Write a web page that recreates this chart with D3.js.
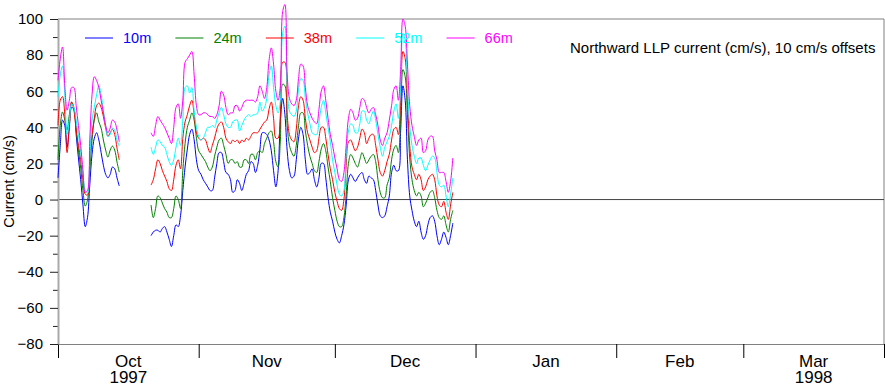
<!DOCTYPE html>
<html>
<head>
<meta charset="utf-8">
<script src="https://cdn.jsdelivr.net/npm/d3@7/dist/d3.min.js"></script>
<style>
  body { margin: 0; background: #fff; }
  svg { display: block; font-family: "Liberation Sans", Arial, sans-serif; }
</style>
</head>
<body>
<svg id="chart"></svg>
<script>
// depths, colours and the 10 cm/s stacking offset used for each line
var depths = ["10m", "24m", "38m", "52m", "66m"];
var offsets = [0, 10, 20, 30, 40];
var colorArray = ["#0000ff", "#008000", "#ff0000", "#00ffff", "#ff00ff"];

// two record pieces, 12-hourly samples (cm/s, without offset)
var startA = new Date(1997, 9, 1, 0);
var startB = new Date(1997, 9, 21, 12);
var stepHours = 12;

var v10a = [12, 30, 44, 41, 29, 40, 51, 50, 36, 23, 11, -3, -15, -10, 8, 25, 34, 37, 33, 26, 19, 14, 12, 14, 18, 17, 12, 7.5];
var v24a = [12, 31, 38.5, 34, 28.5, 37, 44, 41, 28.5, 17.4, 7.4, -5, -13.6, -10.3, 6, 23, 34, 38, 33, 29.6, 23, 17.4, 13.5, 17.4, 19.6, 17.4, 10.8, 5.2];
var v38a = [21, 35, 37, 27, 6, 21, 34, 29.5, 18.5, 10, 2, -9, -17, -17.5, 2, 16, 25, 32, 33.4, 31, 26, 19.6, 15, 17, 19, 16, 8.5, 2];
var v52a = [27, 39, 44, 28, 6, 14, 23, 21, 14, 6, -4, -15, -25, -26.5, -8, 14, 21, 28, 33, 28, 19.5, 11, 5, 6, 9.6, 8.5, 3, -0.4];
var v66a = [26, 38, 44.5, 23, 9.5, 15, 22, 22, 12, 1, -10, -24, -36, -35, -7, 18, 28, 26, 22, 15, 8, 1, -3, -0.4, 4, 3, -1.5, -8];

var v10b = [-20, -18, -17, -17, -18, -16, -15, -18, -22, -26,
  -20, -14, -15, -9, 5, 18, 28, 36, 39, 33,
  22, 16, 14, 11, 9, 7, 5, 5, 12, 20,
  26, 26, 21, 15, 14, 11, 4, 5, 11, 9,
  5, 9, 14, 16, 21, 20, 15, 19, 28, 37,
  37, 36, 33, 27, 16, 7, 16, 44, 56, 47,
  27, 16, 12, 13, 22, 34, 40, 36, 22, 14,
  15, 17, 11, 7, 12, 20, 20, 12, 1, -7,
  -12, -18, -22, -24, -20, -14, -3, 11, 14, 12,
  10, 12, 14, 15, 11, 9, 13, 12, 11, 5,
  -3, -9, -10, -9, -4, 2, 15, 19, 16, 16,
  38, 63, 55, 22, 2, -6, -12, -15, -12, -18,
  -22, -20, -14, -10, -9, -12, -20, -25, -22, -18,
  -21, -25, -20, -13];
var v24b = [-13, -20, -15, -8, -9, -12, -15, -17, -20, -20,
  -15, -8, -10, -15, 6, 21, 30, 34, 38, 34,
  24, 17, 15, 13, 11, 8, 6, 8, 14, 19,
  23, 24, 20, 15, 10, 12, 12, 10, 11, 8,
  8, 12, 12, 10, 15, 15, 12, 16, 17, 16,
  21, 24, 27, 28, 22, 11, 8, 23, 54, 53,
  31, 20, 16, 14, 20, 31, 38, 38, 28, 20,
  14, 10, 6, 5, 11, 18, 21, 17, 8, 0,
  -9, -16, -22, -25, -25, -20, -7, 10, 15, 13,
  10, 8, 12, 16, 13, 10, 12, 14, 15, 11,
  1, -6, -9, -9, -2, 2, 12, 18, 20, 16,
  35, 62, 58, 37, 13, 1, -5, -8, -6, -8,
  -14, -12, -9, -6, -5, -9, -16, -20, -21, -19,
  -24, -28, -21, -16];
var v38b = [-12, -9, -3, 2, 0, -4, -7, -10, -14, -15,
  -9, -1, 2, -3, 14, 23, 27, 32, 35, 27,
  17, 14, 13, 14, 13, 9, 6, 10, 14, 19,
  22, 23, 20, 14, 12, 11, 13, 12, 13, 11,
  13, 12, 14, 13, 15, 17, 17, 17, 19, 21,
  23, 24, 30, 34, 25, 14, 14, 27, 56, 56,
  27, 16, 13, 12, 19, 32, 37, 35, 25, 17,
  13, 9, 6, 7, 14, 20, 20, 14, 5, -3,
  -9, -16, -21, -25, -26, -20, -1, 12, 13, 10,
  7, 9, 14, 19, 17, 11, 14, 16, 16, 10,
  2, -5, -7, -4, 1, 5, 13, 19, 20, 16,
  35, 62, 58, 35, 10, -2, -6, -9, -6, -9,
  -15, -13, -9, -7, -6, -9, -18, -23, -24, -21,
  -27, -31, -23, -16];
var v52b = [-1, -5, -1, 3, 2, 0, -1, -5, -9, -11,
  -8, -1, 4, 0, 14, 32, 33, 29, 32, 19,
  10, 5, 3, 4, 7, 10, 10, 11, 10, 14,
  18, 21, 17, 12, 10, 10, 13, 14, 14, 8,
  11, 14, 16, 17, 16, 17, 17, 18, 24, 19,
  21, 26, 39, 44, 32, 22, 18, 25, 62, 66,
  33, 19, 17, 16, 19, 31, 37, 36, 26, 18,
  12, 7, 6, 6, 13, 21, 25, 18, 10, 2,
  -8, -15, -22, -27, -28, -25, -5, 8, 12, 11,
  7, 7, 12, 19, 19, 14, 12, 16, 19, 14,
  6, -1, -6, -1, 2, 5, 11, 19, 23, 15,
  33, 62, 58, 33, 11, 0, -6, -10, -7, -7,
  -11, -14, -11, -8, -6, -7, -15, -22, -23, -22,
  -28, -34, -27, -18];
var v66b = [-3, -5, 1, 6, 4, 2, 0, -3, -6, -9,
  0, 11, 13, 5, 15, 36, 38, 40, 42, 29,
  12, 7, 7, 8, 8, 7, 6, 6, 5, 7,
  12, 20, 18, 11, 7, 8, 8, 12, 12, 9,
  11, 14, 15, 15, 15, 15, 14, 17, 23, 20,
  16, 22, 37, 44, 35, 20, 15, 23, 64, 68,
  29, 16, 13, 12, 15, 27, 35, 34, 22, 12,
  8, 5, 3, 2, 10, 20, 23, 15, 5, -4,
  -10, -17, -23, -29, -30, -25, -10, 5, 10, 8,
  4, 5, 11, 16, 15, 11, 8, 10, 11, 7,
  1, -7, -10, -6, -3, 4, 12, 21, 23, 15,
  32, 60, 56, 35, 12, 1, -5, -10, -7, -6,
  -14, -13, -7, -5, -5, -13, -18, -25, -25, -25,
  -30, -36, -30, -17];

var piecesA = [v10a, v24a, v38a, v52a, v66a];
var piecesB = [v10b, v24b, v38b, v52b, v66b];

// axis labels
var yTicks = [-80, -60, -40, -20, 0, 20, 40, 60, 80, 100];
var yMinor = [-70, -50, -30, -10, 10, 30, 50, 70, 90];
var monthLabels = ["Oct", "Nov", "Dec", "Jan", "Feb", "Mar"];
var yearLabels = ["1997", "", "", "", "", "1998"];
var titleText = "Northward LLP current (cm/s), 10 cm/s offsets";
var yTitle = "Current (cm/s)";

var svgWidth = 885, svgHeight = 386;
var plotL = 58, plotR = 884, plotT = 19, plotB = 344;

var svg = d3.select("#chart")
  .attr("width", svgWidth)
  .attr("height", svgHeight);

var x = d3.scaleTime()
  .domain([new Date(1997, 9, 1), new Date(1998, 3, 1)])
  .range([plotL, plotR]);
var y = d3.scaleLinear()
  .domain([-80, 100])
  .range([plotB, plotT]);

function toPoints(vals, start) {
  return vals.map(function(v, i) {
    return { date: d3.timeHour.offset(start, i * stepHours), v: v };
  });
}

// frame
svg.append("line").attr("x1", plotL).attr("x2", plotR).attr("y1", plotT).attr("y2", plotT)
  .attr("stroke", "#808080").attr("stroke-width", 1);
svg.append("line").attr("x1", plotR).attr("x2", plotR).attr("y1", plotT).attr("y2", plotB)
  .attr("stroke", "#808080").attr("stroke-width", 1);

// zero line
svg.append("line")
  .attr("x1", plotL).attr("x2", plotR)
  .attr("y1", y(0)).attr("y2", y(0))
  .attr("stroke", "#444").attr("stroke-width", 1);

// x axis: month boundary ticks
var monthStarts = d3.timeMonth.range(new Date(1997, 9, 1), new Date(1998, 3, 2));
var xAxis = svg.append("g")
  .attr("transform", "translate(0," + plotB + ")")
  .call(d3.axisBottom(x).tickValues(monthStarts).tickSize(14).tickSizeOuter(0).tickFormat(""));
xAxis.select(".domain").attr("stroke", "#808080");
xAxis.selectAll(".tick line").attr("stroke", "#000");

// month names (with the year below where shown), one text per month
var months = monthStarts.slice(0, 6);
var mlab = svg.selectAll(".mlab")
  .data(months)
  .enter().append("text")
  .attr("class", "mlab")
  .attr("text-anchor", "middle")
  .attr("font-size", 17);
mlab.append("tspan")
  .attr("x", function(d) { return (x(d) + x(d3.timeMonth.offset(d, 1))) / 2; })
  .attr("y", 366.5)
  .text(function(d, i) { return monthLabels[i]; });
mlab.filter(function(d, i) { return yearLabels[i] !== ""; })
  .append("tspan")
  .attr("x", function(d) { return (x(d) + x(d3.timeMonth.offset(d, 1))) / 2; })
  .attr("y", 382.5)
  .text(function(d) { return yearLabels[months.indexOf(d)]; });

// y axis
var yMinorAxis = svg.append("g")
  .attr("transform", "translate(" + plotL + ",0)")
  .call(d3.axisLeft(y).tickValues(yMinor).tickSize(5).tickSizeOuter(0).tickFormat(""));
yMinorAxis.select(".domain").remove();
yMinorAxis.selectAll(".tick line").attr("stroke", "#222");

var yAxis = svg.append("g")
  .attr("transform", "translate(" + plotL + ",0)")
  .call(d3.axisLeft(y).tickValues(yTicks).tickSize(8).tickSizeOuter(0).tickPadding(7));
yAxis.select(".domain").attr("stroke", "#aaa").attr("stroke-width", 2);
yAxis.selectAll(".tick line").attr("stroke", "#222");
yAxis.selectAll(".tick text")
  .attr("font-size", 15)
  .attr("font-family", "Liberation Sans, Arial, sans-serif")
  .attr("fill", "#000");

svg.append("text")
  .attr("transform", "translate(13.5," + ((plotT + plotB) / 2) + ") rotate(-90)")
  .attr("text-anchor", "middle")
  .attr("font-size", 14.5)
  .text(yTitle);

// data lines
var line = d3.line()
  .x(function(d) { return x(d.date); })
  .y(function(d) { return y(d.v); })
  .curve(d3.curveCatmullRom.alpha(0.5));

depths.forEach(function(dep, k) {
  [[piecesA[k], startA], [piecesB[k], startB]].forEach(function(p) {
    var pts = toPoints(p[0], p[1]).map(function(d) {
      return { date: d.date, v: d.v + offsets[k] };
    });
    svg.append("path")
      .datum(pts)
      .attr("fill", "none")
      .attr("stroke", colorArray[k])
      .attr("stroke-width", 1)
      .attr("d", line);
  });
});

// legend
var legend = svg.selectAll(".leg")
  .data(depths)
  .enter().append("g")
  .attr("class", "leg")
  .attr("transform", function(d, i) { return "translate(" + (85 + i * 90.4) + ",38)"; });
legend.append("line")
  .attr("x1", 0).attr("x2", 28).attr("y1", 0).attr("y2", 0)
  .attr("stroke", function(d, i) { return colorArray[i]; });
legend.append("text")
  .attr("x", 38).attr("y", 5)
  .attr("font-size", 14.5)
  .attr("fill", function(d, i) { return colorArray[i]; })
  .text(function(d) { return d; });

svg.append("text")
  .attr("x", 570).attr("y", 53)
  .attr("font-size", 15)
  .text(titleText);
</script>
</body>
</html>
